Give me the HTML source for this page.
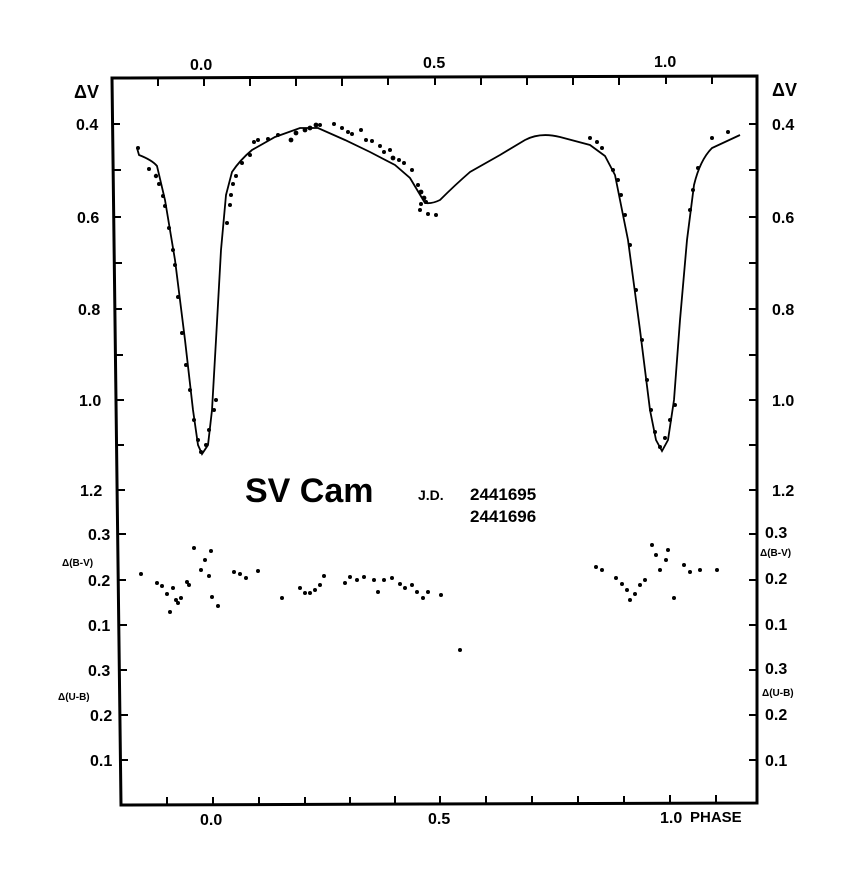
<!DOCTYPE html>
<html><head><meta charset="utf-8"><style>
body{margin:0;background:#fff}
svg text{font-family:"Liberation Sans",sans-serif;font-weight:bold;fill:#000}
</style></head><body>
<svg width="842" height="886" viewBox="0 0 842 886" xmlns="http://www.w3.org/2000/svg">
<g stroke="#000" stroke-width="3" fill="none">
<path d="M112 78 L757 76 L757 803 L121 805 Z"/>
</g>
<g stroke="#000" stroke-width="2">
<!-- top ticks -->
<line x1="158" y1="78" x2="158" y2="86"/><line x1="204" y1="78" x2="204" y2="86"/><line x1="250" y1="78" x2="250" y2="86"/><line x1="296" y1="78" x2="296" y2="86"/><line x1="342" y1="78" x2="342" y2="86"/><line x1="388" y1="77" x2="388" y2="85"/><line x1="435" y1="77" x2="435" y2="85"/><line x1="481" y1="77" x2="481" y2="85"/><line x1="527" y1="77" x2="527" y2="85"/><line x1="573" y1="77" x2="573" y2="85"/><line x1="619" y1="77" x2="619" y2="85"/><line x1="666" y1="76" x2="666" y2="84"/><line x1="712" y1="76" x2="712" y2="84"/>
<!-- bottom ticks -->
<line x1="167" y1="805" x2="167" y2="797"/><line x1="213" y1="805" x2="213" y2="797"/><line x1="259" y1="805" x2="259" y2="797"/><line x1="305" y1="805" x2="305" y2="797"/><line x1="350" y1="805" x2="350" y2="797"/><line x1="395" y1="804" x2="395" y2="796"/><line x1="440" y1="804" x2="440" y2="796"/><line x1="486" y1="804" x2="486" y2="796"/><line x1="532" y1="804" x2="532" y2="796"/><line x1="578" y1="804" x2="578" y2="796"/><line x1="624" y1="804" x2="624" y2="796"/><line x1="670" y1="803" x2="670" y2="795"/><line x1="716" y1="803" x2="716" y2="795"/>
<!-- left ticks -->
<line x1="112" y1="124" x2="120" y2="124"/><line x1="113" y1="170" x2="121" y2="170"/><line x1="113" y1="217" x2="121" y2="217"/><line x1="114" y1="263" x2="122" y2="263"/><line x1="114" y1="309" x2="122" y2="309"/><line x1="115" y1="355" x2="123" y2="355"/><line x1="116" y1="400" x2="124" y2="400"/><line x1="116" y1="445" x2="124" y2="445"/><line x1="117" y1="490" x2="125" y2="490"/><line x1="118" y1="534" x2="126" y2="534"/><line x1="118" y1="580" x2="126" y2="580"/><line x1="119" y1="625" x2="127" y2="625"/><line x1="119" y1="670" x2="127" y2="670"/><line x1="120" y1="715" x2="128" y2="715"/><line x1="120" y1="760" x2="128" y2="760"/>
<!-- right ticks -->
<line x1="757" y1="124" x2="749" y2="124"/><line x1="757" y1="170" x2="749" y2="170"/><line x1="757" y1="217" x2="749" y2="217"/><line x1="757" y1="263" x2="749" y2="263"/><line x1="757" y1="309" x2="749" y2="309"/><line x1="757" y1="355" x2="749" y2="355"/><line x1="757" y1="400" x2="749" y2="400"/><line x1="757" y1="445" x2="749" y2="445"/><line x1="757" y1="490" x2="749" y2="490"/><line x1="757" y1="534" x2="749" y2="534"/><line x1="757" y1="580" x2="749" y2="580"/><line x1="757" y1="625" x2="749" y2="625"/><line x1="757" y1="670" x2="749" y2="670"/><line x1="757" y1="715" x2="749" y2="715"/><line x1="757" y1="760" x2="749" y2="760"/>
</g>
<!-- light curve -->
<path fill="none" stroke="#000" stroke-width="1.8" d="M137 148 L139 155 Q152 160 157 166 L165 200 L175 260 L185 340 L193 410 L198 445 L202 454 L208 445 L212 410 L216 340 L221 250 L226 195 L232 172 Q240 160 252 150 L275 137 L300 128 L318 128 L345 140 L370 152 L395 165 L410 178 L425 203 Q432 204 440 200 Q455 185 470 172 L500 155 L525 140 Q540 132 560 137 L590 145 L605 156 L615 175 L628 240 L640 330 L650 410 L656 440 L662 451 L668 440 L674 400 L680 320 L687 240 L694 185 Q700 160 712 148 L740 135"/>
<!-- V data dots -->
<g fill="#000">
<circle cx="138" cy="148" r="2"/><circle cx="149" cy="169" r="2"/><circle cx="156" cy="176" r="2.2"/><circle cx="159" cy="184" r="2"/><circle cx="163" cy="196" r="2"/><circle cx="165" cy="206" r="2"/><circle cx="169" cy="228" r="2"/><circle cx="173" cy="250" r="2"/><circle cx="175" cy="265" r="2"/><circle cx="178" cy="297" r="2"/><circle cx="182" cy="333" r="2"/><circle cx="186" cy="365" r="2"/><circle cx="190" cy="390" r="2"/><circle cx="194" cy="420" r="2"/><circle cx="198" cy="440" r="2"/><circle cx="201" cy="452" r="2"/><circle cx="206" cy="445" r="2"/><circle cx="209" cy="430" r="2"/><circle cx="214" cy="410" r="2"/><circle cx="216" cy="400" r="2"/><circle cx="227" cy="223" r="2"/><circle cx="230" cy="205" r="2"/><circle cx="231" cy="195" r="2"/><circle cx="233" cy="184" r="2"/><circle cx="236" cy="176" r="2"/><circle cx="242" cy="163" r="2"/><circle cx="250" cy="155" r="2"/><circle cx="254" cy="142" r="2"/><circle cx="258" cy="140" r="2"/><circle cx="268" cy="139" r="2"/><circle cx="278" cy="135" r="2"/><circle cx="291" cy="140" r="2.4"/><circle cx="296" cy="133" r="2.4"/><circle cx="305" cy="130" r="2.4"/><circle cx="310" cy="128" r="2.4"/><circle cx="316" cy="125" r="2.4"/><circle cx="320" cy="125" r="2"/><circle cx="334" cy="124" r="2"/><circle cx="342" cy="128" r="2"/><circle cx="348" cy="132" r="2"/><circle cx="352" cy="134" r="2"/><circle cx="361" cy="130" r="2"/><circle cx="366" cy="140" r="2"/><circle cx="372" cy="141" r="2"/><circle cx="380" cy="146" r="2"/><circle cx="384" cy="152" r="2"/><circle cx="390" cy="150" r="2"/><circle cx="393" cy="158" r="2.4"/><circle cx="399" cy="160" r="2"/><circle cx="404" cy="163" r="2"/><circle cx="412" cy="170" r="2"/><circle cx="418" cy="185" r="2"/><circle cx="421" cy="192" r="2.4"/><circle cx="424" cy="198" r="2.4"/><circle cx="426" cy="202" r="2"/><circle cx="421" cy="204" r="2"/><circle cx="420" cy="210" r="2"/><circle cx="428" cy="214" r="2"/><circle cx="436" cy="215" r="2"/><circle cx="590" cy="138" r="2"/><circle cx="597" cy="142" r="2"/><circle cx="602" cy="148" r="2"/><circle cx="613" cy="170" r="2"/><circle cx="618" cy="180" r="2"/><circle cx="621" cy="195" r="2"/><circle cx="625" cy="215" r="2"/><circle cx="630" cy="245" r="2"/><circle cx="636" cy="290" r="2"/><circle cx="642" cy="340" r="2"/><circle cx="647" cy="380" r="2"/><circle cx="651" cy="410" r="2"/><circle cx="655" cy="432" r="2"/><circle cx="660" cy="447" r="2"/><circle cx="665" cy="438" r="2"/><circle cx="670" cy="420" r="2"/><circle cx="675" cy="405" r="2"/><circle cx="690" cy="210" r="2"/><circle cx="693" cy="190" r="2"/><circle cx="698" cy="168" r="2"/><circle cx="712" cy="138" r="2"/><circle cx="728" cy="132" r="2"/>
<!-- B-V dots -->
<circle cx="141" cy="574" r="2"/><circle cx="157" cy="583" r="2"/><circle cx="162" cy="586" r="2"/><circle cx="167" cy="594" r="2"/><circle cx="170" cy="612" r="2"/><circle cx="173" cy="588" r="2"/><circle cx="176" cy="600" r="2"/><circle cx="178" cy="603" r="2"/><circle cx="181" cy="598" r="2"/><circle cx="187" cy="582" r="2"/><circle cx="189" cy="585" r="2"/><circle cx="194" cy="548" r="2"/><circle cx="201" cy="570" r="2"/><circle cx="205" cy="560" r="2"/><circle cx="209" cy="576" r="2"/><circle cx="211" cy="551" r="2"/><circle cx="212" cy="597" r="2"/><circle cx="218" cy="606" r="2"/><circle cx="234" cy="572" r="2"/><circle cx="240" cy="574" r="2"/><circle cx="246" cy="578" r="2"/><circle cx="258" cy="571" r="2"/><circle cx="282" cy="598" r="2"/><circle cx="300" cy="588" r="2"/><circle cx="305" cy="593" r="2"/><circle cx="310" cy="593" r="2"/><circle cx="315" cy="590" r="2"/><circle cx="320" cy="585" r="2"/><circle cx="324" cy="576" r="2"/><circle cx="345" cy="583" r="2"/><circle cx="350" cy="577" r="2"/><circle cx="357" cy="580" r="2"/><circle cx="364" cy="577" r="2"/><circle cx="374" cy="580" r="2"/><circle cx="378" cy="592" r="2"/><circle cx="384" cy="580" r="2"/><circle cx="392" cy="578" r="2"/><circle cx="400" cy="584" r="2"/><circle cx="405" cy="588" r="2"/><circle cx="412" cy="585" r="2"/><circle cx="417" cy="592" r="2"/><circle cx="423" cy="598" r="2"/><circle cx="428" cy="592" r="2"/><circle cx="441" cy="595" r="2"/><circle cx="460" cy="650" r="2"/><circle cx="596" cy="567" r="2"/><circle cx="602" cy="570" r="2"/><circle cx="616" cy="578" r="2"/><circle cx="622" cy="584" r="2"/><circle cx="627" cy="590" r="2"/><circle cx="630" cy="600" r="2"/><circle cx="635" cy="594" r="2"/><circle cx="640" cy="585" r="2"/><circle cx="645" cy="580" r="2"/><circle cx="652" cy="545" r="2"/><circle cx="656" cy="555" r="2"/><circle cx="660" cy="570" r="2"/><circle cx="666" cy="560" r="2"/><circle cx="668" cy="550" r="2"/><circle cx="674" cy="598" r="2"/><circle cx="684" cy="565" r="2"/><circle cx="690" cy="572" r="2"/><circle cx="700" cy="570" r="2"/><circle cx="717" cy="570" r="2"/>
</g>
<!-- labels -->
<g font-size="16">
<text x="190" y="70">0.0</text><text x="423" y="68">0.5</text><text x="654" y="67">1.0</text>
<text x="200" y="825">0.0</text><text x="428" y="824">0.5</text><text x="660" y="823">1.0</text>
<text x="690" y="822" font-size="15" font-weight="normal">PHASE</text>
<text x="74" y="98" font-size="18">ΔV</text><text x="772" y="96" font-size="18">ΔV</text>
<text x="76" y="130">0.4</text><text x="77" y="223">0.6</text><text x="78" y="315">0.8</text><text x="79" y="406">1.0</text><text x="80" y="496">1.2</text>
<text x="772" y="130">0.4</text><text x="772" y="223">0.6</text><text x="772" y="315">0.8</text><text x="772" y="406">1.0</text><text x="772" y="496">1.2</text>
<text x="88" y="540">0.3</text><text x="88" y="586">0.2</text><text x="88" y="631">0.1</text><text x="88" y="676">0.3</text><text x="90" y="721">0.2</text><text x="90" y="766">0.1</text>
<text x="765" y="538">0.3</text><text x="765" y="584">0.2</text><text x="765" y="630">0.1</text><text x="765" y="674">0.3</text><text x="765" y="720">0.2</text><text x="765" y="766">0.1</text>
</g>
<g font-size="10">
<text x="62" y="566">Δ(B-V)</text><text x="58" y="700">Δ(U-B)</text>
<text x="760" y="556">Δ(B-V)</text><text x="762" y="696">Δ(U-B)</text>
</g>
<text x="245" y="502" font-size="34">SV Cam</text>
<text x="418" y="500" font-size="14">J.D.</text>
<text x="470" y="500" font-size="17" font-weight="normal">2441695</text>
<text x="470" y="522" font-size="17" font-weight="normal">2441696</text>
</svg>
</body></html>
